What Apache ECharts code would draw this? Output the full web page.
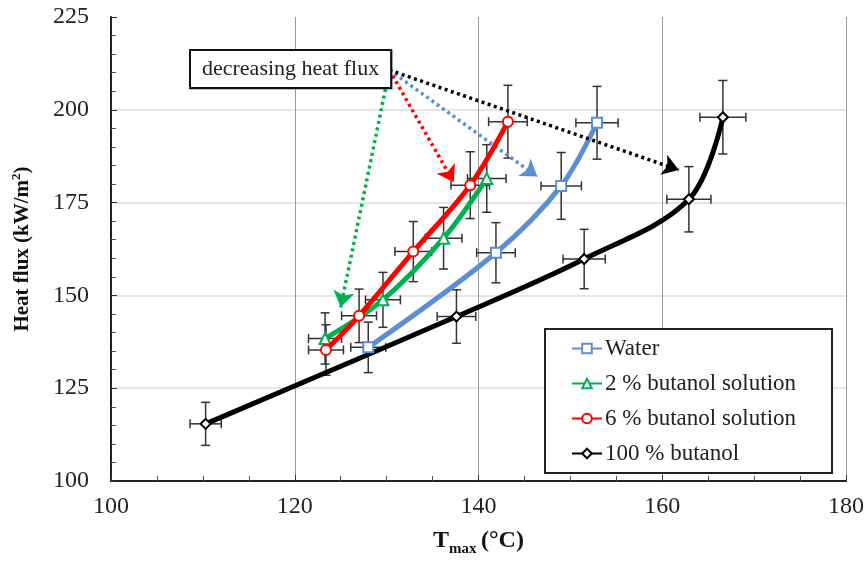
<!DOCTYPE html>
<html>
<head>
<meta charset="utf-8">
<script src="https://cdn.jsdelivr.net/npm/echarts@6/dist/echarts.min.js"></script>
<style>
html,body{margin:0;padding:0;background:#fff;}
#chart{width:867px;height:561px;}
</style>
</head>
<body>
<div id="chart"></div>
<script>
// ---- data ----
const seriesNames = ['Water', '2 % butanol solution', '6 % butanol solution', '100 % butanol'];

const waterT    = [128.0, 141.9, 149.0, 152.9];
const waterQ    = [136.0, 161.5, 179.5, 196.5];
const waterTErr = [1.9, 2.1, 2.2, 2.3];
const waterQErr = [6.8, 8.1, 9.0, 9.8];

const but2T    = [123.3, 129.6, 136.2, 140.9];
const but2Q    = [138.4, 148.8, 165.4, 181.5];
const but2TErr = [1.8, 1.9, 2.0, 2.1];
const but2QErr = [6.9, 7.4, 8.3, 9.1];

const but6T    = [123.4, 127.0, 132.9, 139.1, 143.2];
const but6Q    = [135.3, 144.5, 161.8, 179.7, 196.8];
const but6TErr = [1.9, 1.9, 2.0, 2.1, 2.1];
const but6QErr = [6.8, 7.2, 8.1, 9.0, 9.8];

const but100T    = [110.3, 137.6, 151.5, 162.9, 166.6];
const but100Q    = [115.4, 144.3, 159.8, 175.9, 198.0];
const but100TErr = [1.7, 2.1, 2.3, 2.4, 2.5];
const but100QErr = [5.8, 7.2, 8.0, 8.8, 9.9];

const xTicks = [100, 120, 140, 160, 180];
const yTicks = [100, 125, 150, 175, 200, 225];

// annotation arrows (data coordinates)
const arrowStart = [130.3, 210.7];
const arrowEnds = {
  green: [125.0, 146.8],
  red:   [137.3, 180.5],
  blue:  [146.4, 182.0],
  black: [161.8, 183.8]
};
const annotationText = 'decreasing heat flux';

// ---- styles ----
const colors = ['#5B8FD3', '#00B050', '#FF0000', '#000000'];
const symbols = ['rect', 'triangle', 'circle', 'diamond'];
const FONT = '"Liberation Serif", "Times New Roman", serif';

function zip(a, b) { return a.map((v, i) => [v, b[i]]); }
function zip4(a, b, c, d) { return a.map((v, i) => [v, b[i], c[i], d[i]]); }

const dataSets = [
  {t: waterT, q: waterQ, te: waterTErr, qe: waterQErr},
  {t: but2T, q: but2Q, te: but2TErr, qe: but2QErr},
  {t: but6T, q: but6Q, te: but6TErr, qe: but6QErr},
  {t: but100T, q: but100Q, te: but100TErr, qe: but100QErr}
];

function errRender(params, api) {
  const x = api.value(0), y = api.value(1), ex = api.value(2), ey = api.value(3);
  const l = api.coord([x - ex, y]), r = api.coord([x + ex, y]);
  const t = api.coord([x, y + ey]), b = api.coord([x, y - ey]);
  const cap = 4.5;
  const st = {stroke: '#333', lineWidth: 1.5};
  return {
    type: 'group',
    children: [
      {type: 'line', shape: {x1: l[0], y1: l[1], x2: r[0], y2: r[1]}, style: st},
      {type: 'line', shape: {x1: t[0], y1: t[1], x2: b[0], y2: b[1]}, style: st},
      {type: 'line', shape: {x1: l[0], y1: l[1] - cap, x2: l[0], y2: l[1] + cap}, style: st},
      {type: 'line', shape: {x1: r[0], y1: r[1] - cap, x2: r[0], y2: r[1] + cap}, style: st},
      {type: 'line', shape: {x1: t[0] - cap, y1: t[1], x2: t[0] + cap, y2: t[1]}, style: st},
      {type: 'line', shape: {x1: b[0] - cap, y1: b[1], x2: b[0] + cap, y2: b[1]}, style: st}
    ]
  };
}

const zOrder = [3, 4, 5, 2];
const series = [];
dataSets.forEach((d, i) => {
  series.push({
    name: seriesNames[i] + ' err',
    type: 'custom',
    renderItem: errRender,
    data: zip4(d.t, d.q, d.te, d.qe),
    z: 1,
    silent: true,
    animation: false
  });
});
dataSets.forEach((d, i) => {
  series.push({
    name: seriesNames[i],
    type: 'line',
    data: zip(d.t, d.q),
    smooth: 0.35,
    symbol: symbols[i],
    symbolSize: i === 1 ? 11 : 10,
    showAllSymbol: true,
    z: zOrder[i],
    lineStyle: {color: colors[i], width: 5},
    itemStyle: {color: '#fff', borderColor: colors[i], borderWidth: 2},
    color: colors[i],
    animation: false
  });
});

function arrow(end, color) {
  return [
    {coord: arrowStart, lineStyle: {color: color, width: 3.5, type: [3, 3.5]}},
    {coord: end}
  ];
}
series.push({
  name: 'arrows',
  type: 'line',
  data: [],
  z: 6,
  animation: false,
  markLine: {
    silent: true,
    animation: false,
    symbol: ['none', 'arrow'],
    symbolSize: 16,
    label: {show: false},
    data: [
      arrow(arrowEnds.green, '#00B050'),
      arrow(arrowEnds.red, '#FF0000'),
      arrow(arrowEnds.blue, '#5B8FD3'),
      arrow(arrowEnds.black, '#000000')
    ]
  }
});

const option = {
  backgroundColor: '#fff',
  animation: false,
  grid: {left: 111, right: 21, top: 17, bottom: 80, containLabel: false, outerBoundsMode: 'none'},
  xAxis: {
    type: 'value',
    min: xTicks[0], max: xTicks[xTicks.length - 1], interval: 20,
    axisLine: {show: true, onZero: false, lineStyle: {color: '#222', width: 2}},
    axisTick: {show: true, inside: true, length: 6, lineStyle: {color: '#333'}},
    minorTick: {show: true, splitNumber: 4, length: 5, lineStyle: {color: '#555'}},
    axisLabel: {fontFamily: FONT, fontSize: 24, color: '#222', margin: 14},
    splitLine: {show: true, lineStyle: {color: '#9a9a9a', width: 1}}
  },
  yAxis: {
    type: 'value',
    min: yTicks[0], max: yTicks[yTicks.length - 1], interval: 25,
    axisLine: {show: true, onZero: false, lineStyle: {color: '#222', width: 2}},
    axisTick: {show: true, inside: true, length: 6, lineStyle: {color: '#333'}},
    minorTick: {show: true, splitNumber: 5, length: 5, lineStyle: {color: '#555'}},
    axisLabel: {fontFamily: FONT, fontSize: 24, color: '#222', margin: 22},
    splitLine: {show: true, showMaxLine: false, lineStyle: {color: '#dcdcdc', width: 1.5}},
    name: '{a|Heat flux (kW/m}{b|2}{a|)}',
    nameLocation: 'middle',
    nameGap: 75,
    nameTextStyle: {
      rich: {
        a: {fontFamily: FONT, fontSize: 21, fontWeight: 'bold', color: '#111', lineHeight: 26},
        b: {fontFamily: FONT, fontSize: 13, fontWeight: 'bold', color: '#111', lineHeight: 14, verticalAlign: 'top'}
      }
    }
  },
  legend: {
    data: seriesNames,
    orient: 'vertical',
    left: 545,
    top: 329,
    padding: [8, 36, 8, 26],
    itemGap: 12,
    itemWidth: 30,
    itemHeight: 12,
    borderColor: '#222',
    borderWidth: 2,
    backgroundColor: '#fff',
    textStyle: {fontFamily: FONT, fontSize: 23, color: '#222', padding: [0, 0, 0, -2]},
    selectedMode: false
  },
  graphic: [
    {
      type: 'text',
      x: 191, y: 51,
      z: 10,
      style: {
        text: annotationText,
        font: '22px ' + FONT,
        fill: '#222',
        backgroundColor: '#fff',
        borderColor: '#111',
        borderWidth: 2,
        padding: [7, 11, 7, 11],
        shadowColor: 'rgba(0,0,0,0.25)',
        shadowOffsetX: 1,
        shadowOffsetY: 1
      }
    },
    {type: 'text', x: 433, y: 529, style: {text: 'T', font: 'bold 24px ' + FONT, fill: '#111'}},
    {type: 'text', x: 449, y: 542, style: {text: 'max', font: 'bold 15px ' + FONT, fill: '#111'}},
    {type: 'text', x: 481, y: 529, style: {text: '(°C)', font: 'bold 24px ' + FONT, fill: '#111'}}
  ],
  series: series
};

const chart = echarts.init(document.getElementById('chart'), null, {renderer: 'canvas'});
chart.setOption(option);
</script>
</body>
</html>
